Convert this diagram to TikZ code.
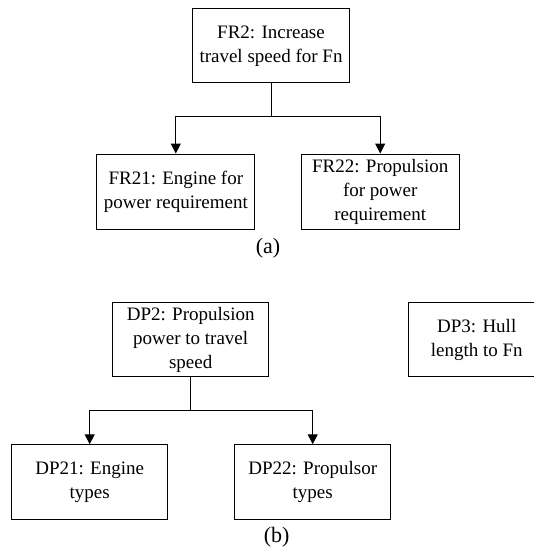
\documentclass[tikz,border=0pt]{standalone}
\usepackage{fontspec}
\setmainfont{Liberation Serif}
\usetikzlibrary{arrows.meta}
\begin{document}
\begin{tikzpicture}[x=1pt,y=-1pt,
  box/.style={draw,line width=1pt,align=center,inner sep=0pt,
    font=\fontsize{19}{24}\selectfont},
  conn/.style={line width=1pt},
  arr/.style={line width=1pt,-{Triangle[width=10pt,length=10pt]}},
  caption/.style={font=\fontsize{22}{26}\selectfont,inner sep=0pt}]
\useasboundingbox (0,0) rectangle (534,548);
% (a)
\node[box,minimum width=156.6pt,minimum height=73.7pt] (fr2) at (271,45.8) {FR2: Increase\\travel speed for Fn};
\node[box,minimum width=158.3pt,minimum height=75.3pt] (fr21) at (175.8,191.7) {FR21: Engine for\\power requirement};
\node[box,minimum width=157.7pt,minimum height=75.3pt] (fr22) at (380.2,191.7) {FR22: Propulsion\\for power\\requirement};
\coordinate (ja) at (271.7,116.7);
\draw[conn] (fr2.south -| ja) -- (ja);
\draw[arr] (ja) -| (fr21.north);
\draw[arr] (ja) -| (fr22.north);
\node[caption] (capa) at (268,248) {(a)};
% (b)
\node[box,minimum width=156pt,minimum height=74pt] (dp2) at (190.7,339.6) {DP2: Propulsion\\power to travel\\speed};
\node[box,minimum width=155.7pt,minimum height=74.3pt] (dp21) at (89.7,481.9) {DP21: Engine\\types};
\node[box,minimum width=156pt,minimum height=74.3pt] (dp22) at (312.7,481.9) {DP22: Propulsor\\types};
\node[box,minimum width=136pt,minimum height=74pt] (dp3) at (476.7,339.6) {DP3: Hull\\length to Fn};
\coordinate (jb) at (190.7,410.3);
\draw[conn] (dp2.south) -- (jb);
\draw[arr] (jb) -| (dp21.north);
\draw[arr] (jb) -| (dp22.north);
\node[caption] (capb) at (276.6,537.5) {(b)};
\end{tikzpicture}
\end{document}
